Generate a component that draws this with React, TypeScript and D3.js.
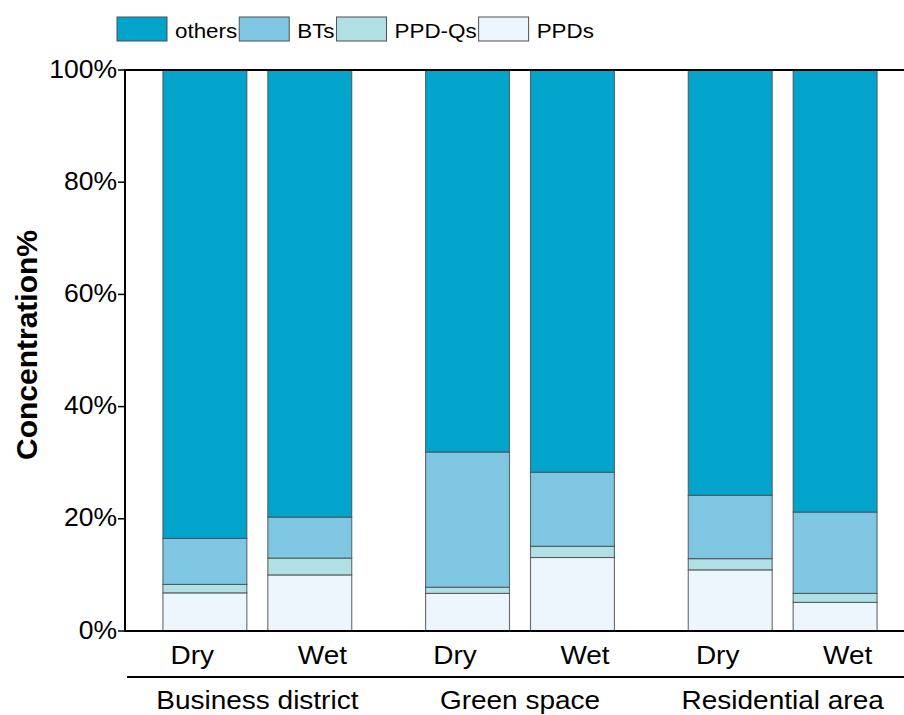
import React, { useEffect, useRef } from "react";
import * as d3 from "d3";

const groups = ["Business district", "Green space", "Residential area"];
const seasons = ["Dry", "Wet"];
const seriesNames = ["others", "BTs", "PPD-Qs", "PPDs"];
const seriesColors = ["#02A4CB", "#7EC6E2", "#B0DFE4", "#EEF6FD"];
// order of bars: Business Dry, Business Wet, Green Dry, Green Wet, Residential Dry, Residential Wet
const ppds = [6.8, 10.0, 6.7, 13.1, 10.9, 5.1];
const ppdqs = [1.5, 3.0, 1.1, 2.0, 2.0, 1.6];
const bts = [8.2, 7.3, 24.1, 13.2, 11.3, 14.5];
const others = [83.5, 79.7, 68.1, 71.7, 75.8, 78.8];
const yTicks = [0, 20, 40, 60, 80, 100];

const FONT = "'Liberation Sans', Arial, Helvetica, sans-serif";
const SX = 1.12;

export default function App() {
  const ref = useRef<SVGSVGElement>(null);

  useEffect(() => {
    const svg = d3.select(ref.current);
    svg.selectAll("*").remove();

    const left = 125;
    const right = 914;
    const y = d3.scaleLinear().domain([0, 100]).range([631, 70]);
    const xg = d3.scaleBand().domain(groups).range([126, 914]).padding(0);
    const xs = d3
      .scaleBand()
      .domain(seasons)
      .range([0, xg.bandwidth()])
      .paddingInner(0.2)
      .paddingOuter(0.352);
    const xl = d3.scalePoint().domain(seasons).range([0, xg.bandwidth()]).padding(0.51);

    const rows = groups.flatMap((g, gi) =>
      seasons.map((s, si) => {
        const i = gi * 2 + si;
        return {
          group: g,
          season: s,
          PPDs: ppds[i],
          "PPD-Qs": ppdqs[i],
          BTs: bts[i],
          others: others[i],
        };
      })
    );
    const stackKeys = ["PPDs", "PPD-Qs", "BTs", "others"];
    const color = d3.scaleOrdinal<string, string>().domain(seriesNames).range(seriesColors);
    const stacked = d3.stack<any>().keys(stackKeys)(rows);

    const gBars = svg.append("g");
    stacked.forEach((layer) => {
      gBars
        .append("g")
        .selectAll("rect")
        .data(layer)
        .enter()
        .append("rect")
        .attr("x", (d: any) => (xg(d.data.group) as number) + (xs(d.data.season) as number))
        .attr("width", xs.bandwidth())
        .attr("y", (d: any) => y(d[1]))
        .attr("height", (d: any) => y(d[0]) - y(d[1]))
        .attr("fill", color(layer.key))
        .attr("stroke", "#4f4f4f")
        .attr("stroke-width", 1.1)
        .attr("stroke-opacity", 0.85);
    });

    // axis lines
    svg.append("line").attr("x1", left).attr("x2", right).attr("y1", y(0)).attr("y2", y(0))
      .attr("stroke", "#000").attr("stroke-width", 2);
    svg.append("line").attr("x1", left).attr("x2", right).attr("y1", y(100)).attr("y2", y(100))
      .attr("stroke", "#000").attr("stroke-width", 2);
    svg.append("line").attr("x1", left).attr("x2", left).attr("y1", y(0) + 1).attr("y2", y(100) - 1)
      .attr("stroke", "#000").attr("stroke-width", 2);

    // y ticks
    const gy = svg.append("g");
    yTicks.forEach((t) => {
      gy.append("line").attr("x1", left - 7).attr("x2", left).attr("y1", y(t)).attr("y2", y(t))
        .attr("stroke", "#000").attr("stroke-width", 1.5);
      gy.append("text")
        .attr("x", left - 8)
        .attr("y", y(t) + 7.5)
        .attr("text-anchor", "end")
        .attr("font-family", FONT)
        .attr("font-size", 26.5)
        .attr("fill", "#000")
        .text(`${t}%`);
    });

    // y title
    svg.append("text")
      .attr("transform", `translate(37,345) rotate(-90)`)
      .attr("text-anchor", "middle")
      .attr("font-family", FONT)
      .attr("font-weight", "bold")
      .attr("font-size", 30)
      .attr("fill", "#000")
      .text("Concentration%");

    // x labels
    rows.forEach((r) => {
      const cx = (xg(r.group) as number) + (xl(r.season) as number);
      svg.append("text")
        .attr("transform", `translate(${cx},664) scale(${SX},1)`)
        .attr("text-anchor", "middle")
        .attr("font-family", FONT)
        .attr("font-size", 25)
        .attr("fill", "#000")
        .text(r.season);
    });
    svg.append("line").attr("x1", 127).attr("x2", right).attr("y1", 677).attr("y2", 677)
      .attr("stroke", "#000").attr("stroke-width", 2);
    groups.forEach((g) => {
      const cx = (xg(g) as number) + xg.bandwidth() / 2;
      svg.append("text")
        .attr("transform", `translate(${cx},709) scale(${SX},1)`)
        .attr("text-anchor", "middle")
        .attr("font-family", FONT)
        .attr("font-size", 25)
        .attr("fill", "#000")
        .text(g);
    });

    // legend
    let lx = 117;
    const legend = svg.append("g");
    seriesNames.forEach((name) => {
      legend.append("rect")
        .attr("x", lx).attr("y", 17).attr("width", 50).attr("height", 24)
        .attr("fill", color(name)).attr("stroke", "#4f4f4f").attr("stroke-width", 1);
      const tx = lx + 58;
      const t = legend.append("text")
        .attr("transform", `translate(${tx},37.5) scale(${SX},1)`)
        .attr("font-family", FONT)
        .attr("font-size", 20)
        .attr("fill", "#000")
        .text(name);
      const w = (t.node() as SVGTextElement).getComputedTextLength() * SX;
      lx = tx + w + 2;
    });
  }, []);

  return (
    <svg
      ref={ref}
      width={904}
      height={715}
      style={{ position: "absolute", left: 0, top: 0, background: "#fff" }}
    />
  );
}
